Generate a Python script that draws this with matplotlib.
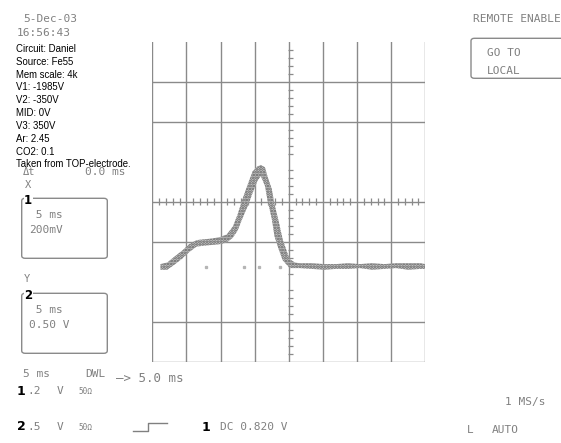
import matplotlib
matplotlib.use("Agg")
import matplotlib.pyplot as plt
from matplotlib.patches import FancyBboxPatch, Rectangle
from matplotlib.lines import Line2D
import numpy as np

# ---- data (time in ms, 5 ms/div; voltage in V, 0.5 V/div) ----
time_ms = [-18.8, -17.8, -16.8, -15.6, -14.6, -13.5, -12.4, -11.2, -10.0, -9.1,
           -8.2, -7.5, -6.8, -6.0, -5.3, -4.6, -4.1, -3.5, -3.1, -2.5,
           -2.1, -1.5, -0.9, -0.3, 0.15, 0.9, 1.6, 3.4, 5.2, 6.9,
           8.7, 10.4, 12.2, 14.0, 15.7, 17.5, 19.3, 20.0]
v_high = [-0.78, -0.76, -0.69, -0.61, -0.53, -0.48, -0.47, -0.46, -0.44, -0.41,
          -0.31, -0.16, 0.03, 0.22, 0.38, 0.44, 0.46, 0.43, 0.31, 0.16,
          -0.03, -0.24, -0.47, -0.62, -0.72, -0.76, -0.77, -0.77, -0.78, -0.78,
          -0.77, -0.78, -0.77, -0.78, -0.77, -0.77, -0.77, -0.78]
v_low = [-0.85, -0.85, -0.79, -0.71, -0.63, -0.56, -0.55, -0.54, -0.53, -0.51,
         -0.45, -0.36, -0.21, -0.05, 0.11, 0.26, 0.32, 0.20, 0.01, -0.21,
         -0.43, -0.59, -0.73, -0.79, -0.83, -0.83, -0.83, -0.84, -0.85, -0.84,
         -0.84, -0.83, -0.85, -0.84, -0.83, -0.85, -0.84, -0.84]
stray_t = [-12.1, -6.5, -4.3, -1.3]
stray_v = [-0.82, -0.82, -0.82, -0.82]

annotations = ["Circuit: Daniel", "Source: Fe55", "Mem scale: 4k", "V1: -1985V",
               "V2: -350V", "MID: 0V", "V3: 350V", "Ar: 2.45", "CO2: 0.1",
               "Taken from TOP-electrode."]

W, H = 561, 443
fig = plt.figure(figsize=(W / 100, H / 100), dpi=100)
fig.patch.set_facecolor("white")

GRAY = "#808080"
GRID = "#8a8a8a"
MONO = "DejaVu Sans Mono"


def fx(x):
    return x / W


def fy(y):
    return 1 - y / H


def T(x, y, s, size=8, color=GRAY, family=MONO, weight="normal", va="center", **kw):
    return fig.text(fx(x), fy(y), s, fontsize=size, color=color, family=family,
                    fontweight=weight, ha="left", va=va, **kw)


# ---- scope screen ----
x0, x1, y0, y1 = 152.3, 425.3, 41.7, 361.7
ax = fig.add_axes([fx(x0), fy(y1), (x1 - x0) / W, (y1 - y0) / H])
ax.set_xlim(-20, 20)
ax.set_ylim(-2, 2)
for s in ax.spines.values():
    s.set_visible(False)
ax.set_xticks([])
ax.set_yticks([])

for xv in np.arange(-20, 20.1, 5):
    ax.axvline(xv, color=GRID, lw=1.0, zorder=1)
for yv in [1.5, 1.0, 0.0, -0.5, -1.5, -2.0]:
    ax.axhline(yv, color=GRID, lw=1.0, zorder=1)

# minor ticks on centre axes
tx = [v for v in np.arange(-20, 20.01, 1.0) if abs(v % 5) > 1e-6]
ax.vlines(tx, -0.04, 0.04, color=GRID, lw=0.9, zorder=1)
ty = [v for v in np.arange(-2, 2.001, 0.1) if abs(round(v / 0.5) * 0.5 - v) > 1e-6]
ax.hlines(ty, -0.1, 0.55, color=GRID, lw=0.9, zorder=1)

# trace
plt.rcParams["hatch.linewidth"] = 1.3
ax.fill_between(time_ms, v_low, v_high, facecolor="#c4c4c4", edgecolor="#5e5e5e",
                hatch="......", lw=0, zorder=3)
ax.plot(stray_t, stray_v, ls="none", marker="s", ms=1.4, color="#b5b5b5", zorder=3)

# ---- left side texts ----
T(23, 19, "5-Dec-03")
T(17, 33, "16:56:43")
for i, s in enumerate(annotations):
    T(16, 51.8 + 12.85 * i, s, size=6.9, color="black",
      family=["Liberation Sans", "DejaVu Sans"], va="baseline")
T(23, 172, "\u0394t", size=7.5)
T(85, 172, "0.0 ms")
T(25, 185, "X", size=7.5)
T(24, 278.5, "Y", size=7.5)

for (by, num, l1, l2) in [(198.3, "1", " 5 ms", "200mV"), (293.3, "2", " 5 ms", "0.50 V")]:
    box = FancyBboxPatch((fx(21.7), fy(by + 60)), (107.3 - 21.7) / W, 60 / H,
                         boxstyle="round,pad=0,rounding_size=0.006",
                         transform=fig.transFigure, fc="none", ec=GRID, lw=1.0)
    fig.add_artist(box)
    T(24, by + 2, num, size=8.5, color="black", family="DejaVu Sans", weight="bold",
      bbox=dict(fc="white", ec="none", pad=0.3))
    T(29, by + 17, l1)
    T(29, by + 32, l2)

# ---- bottom texts ----
T(23, 374, "5 ms")
T(85, 374, "DWL")
T(116, 378, "\u2014> 5.0 ms", size=9)
T(17, 391.5, "1", size=9, color="black", family="DejaVu Sans", weight="bold")
T(27, 391, ".2")
T(57, 391, "V")
T(78, 391, "50\u03a9", size=5.5)
T(17, 427, "2", size=9, color="black", family="DejaVu Sans", weight="bold")
T(27, 427, ".5")
T(57, 427, "V")
T(78, 427, "50\u03a9", size=5.5)
fig.add_artist(Line2D([fx(133), fx(148), fx(148), fx(167)],
                      [fy(431), fy(431), fy(423), fy(423)],
                      transform=fig.transFigure, color=GRAY, lw=1.0))
T(202, 427.5, "1", size=9, color="black", family="DejaVu Sans", weight="bold")
T(220, 427, "DC 0.820 V")

# ---- right side ----
T(473, 19, "REMOTE ENABLE")
box = FancyBboxPatch((fx(471), fy(78.3)), (600 - 471) / W, 40 / H,
                     boxstyle="round,pad=0,rounding_size=0.006",
                     transform=fig.transFigure, fc="none", ec=GRID, lw=1.0)
fig.add_artist(box)
T(487, 53.5, "GO TO")
loc = T(487, 71.5, "LOCAL")
clip = Rectangle((0, fy(73.5)), 1, 1, transform=fig.transFigure, visible=False)
loc.set_clip_path(clip)
loc.set_clip_on(True)
T(505, 402.5, "1 MS/s")
T(467, 430, "L")
T(492, 430, "AUTO")

fig.savefig("out.png", dpi=100)
